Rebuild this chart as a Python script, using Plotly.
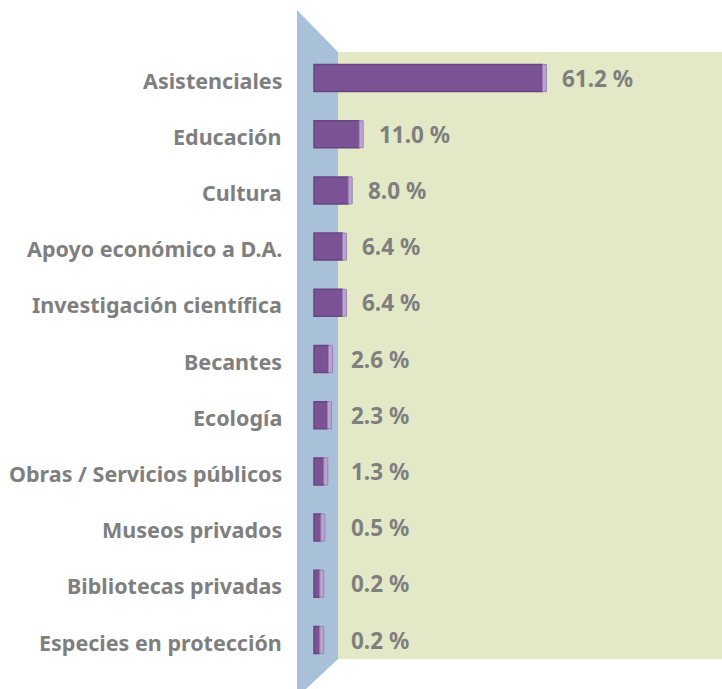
import plotly.graph_objects as go

# data
categories = [
    'Asistenciales', 'Educación', 'Cultura', 'Apoyo económico a D.A.',
    'Investigación científica', 'Becantes', 'Ecología',
    'Obras / Servicios públicos', 'Museos privados', 'Bibliotecas privadas',
    'Especies en protección',
]
values = [61.2, 11.0, 8.0, 6.4, 6.4, 2.6, 2.3, 1.3, 0.5, 0.2, 0.2]
value_labels = ['61.2 %', '11.0 %', '8.0 %', '6.4 %', '6.4 %', '2.6 %',
                '2.3 %', '1.3 %', '0.5 %', '0.2 %', '0.2 %']

W, H = 722, 689
ZERO_PX = 319      # pixel where value 0 sits
PX_PER_UNIT = 3.65
ROW0_PX = 78       # centre of first row
ROW_STEP = 56.2

PURPLE = '#7b5294'
PURPLE_EDGE = '#674680'
CAP = '#bba5cf'
GRAY = '#7f7f7f'
FONT = 'Noto Sans'

x_range = [-ZERO_PX / PX_PER_UNIT, (W - ZERO_PX) / PX_PER_UNIT]
y_range = [(H - ROW0_PX) / ROW_STEP, -ROW0_PX / ROW_STEP]
bar_base = -5 / PX_PER_UNIT
cap_len = 4 / PX_PER_UNIT
label_floor = 3.2   # short bars keep their value label a bit clear of the wall


def px(x, y):
    # pixel position -> paper fraction
    return x / W, 1 - y / H


def path(points):
    parts = []
    for i, (x, y) in enumerate(points):
        fx, fy = px(x, y)
        parts.append(('M' if i == 0 else 'L') + f'{fx:.5f},{fy:.5f}')
    return ' '.join(parts) + ' Z'


fig = go.Figure()

# main bars
fig.add_trace(go.Bar(
    y=categories,
    x=[v - bar_base for v in values],
    base=bar_base,
    orientation='h',
    width=0.48,
    marker=dict(color=PURPLE, line=dict(color=PURPLE_EDGE, width=1.5)),
    hoverinfo='skip',
))

# lighter end cap for the 3D look
fig.add_trace(go.Bar(
    y=categories,
    x=[cap_len] * len(values),
    base=values,
    orientation='h',
    width=0.48,
    marker=dict(color=CAP, line=dict(color='#9a80b3', width=1)),
    hoverinfo='skip',
))

# background wall (blue) and floor (green)
fig.add_shape(type='path', xref='paper', yref='paper', layer='below',
              path=path([(297, 10), (338, 52), (338, 659), (306, 689), (297, 689)]),
              fillcolor='#a8c1d9', line=dict(width=0))
fx0, fy0 = px(338, 52)
fx1, fy1 = px(W, 659)
fig.add_shape(type='rect', xref='paper', yref='paper', layer='below',
              x0=fx0, x1=fx1, y0=fy1, y1=fy0,
              fillcolor='#e3e9c7', line=dict(width=0))

for cat, v, lab in zip(categories, values, value_labels):
    fig.add_annotation(
        x=px(284, 0)[0], xref='paper', y=cat, yref='y', yshift=-2,
        text=f'<b>{cat}</b>', showarrow=False, xanchor='right',
        font=dict(family=FONT, size=21.5, color=GRAY),
    )
    fig.add_annotation(
        x=max(v, label_floor) + cap_len, xref='x', y=cat, yref='y',
        text=f'<b>{lab}</b>', showarrow=False, xanchor='left', xshift=14,
        font=dict(family=FONT, size=22.5, color=GRAY),
    )

fig.update_layout(
    width=W, height=H,
    margin=dict(l=0, r=0, t=0, b=0),
    paper_bgcolor='white', plot_bgcolor='rgba(0,0,0,0)',
    barmode='overlay', showlegend=False,
    xaxis=dict(range=x_range, visible=False, fixedrange=True),
    yaxis=dict(range=y_range, visible=False, type='category',
               categoryorder='array', categoryarray=categories, fixedrange=True),
)

# drop the default page margin so the figure fills the window exactly
fig.write_html('out.html', config={'displayModeBar': False},
               post_script="document.body.style.margin='0';")
